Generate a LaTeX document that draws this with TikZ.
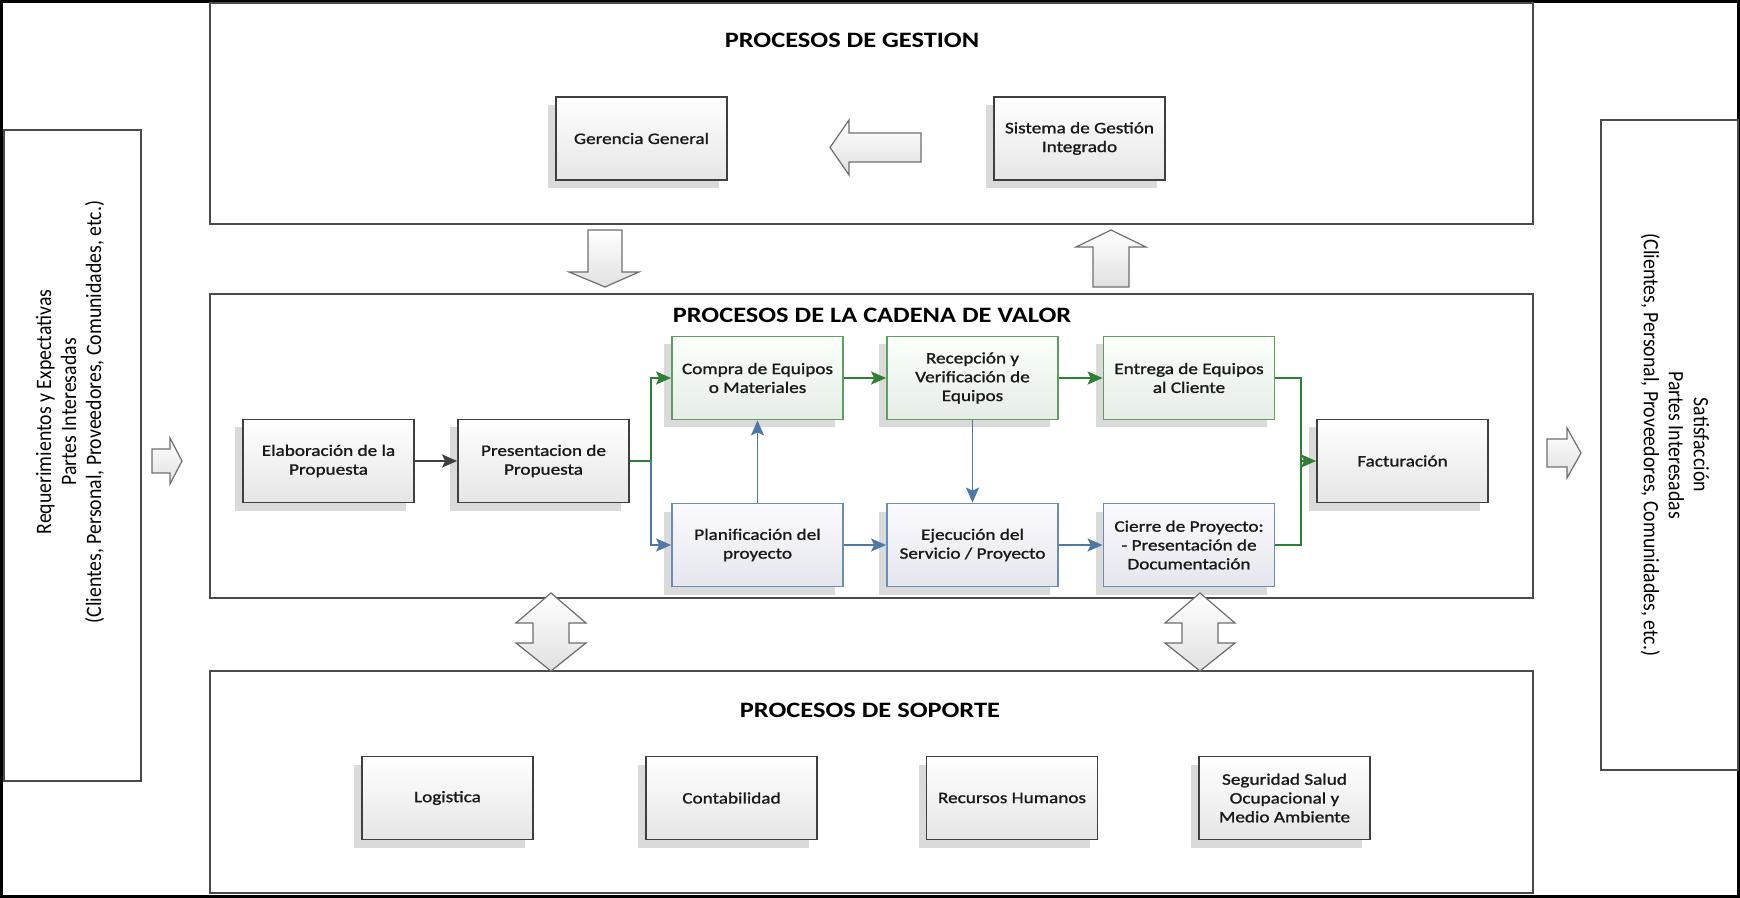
\documentclass[tikz,border=0pt]{standalone}
\usepackage{fontspec}
\setmainfont{Carlito}
\newfontfamily\boxfont{Carlito}[FakeStretch=1.2, FakeBold=1.2]
\newfontfamily\titlefont{Carlito}[FakeStretch=1.2]
\newfontfamily\sidefont{Carlito}[FakeStretch=0.9]
\usetikzlibrary{arrows.meta,shadows,shadings}

\definecolor{boxline}{HTML}{3F3F3F}
\definecolor{frameline}{HTML}{4A4A4A}
\definecolor{grnline}{HTML}{5E9E5E}
\definecolor{grnconn}{HTML}{2F7F34}
\definecolor{blueline}{HTML}{6A8DB3}
\definecolor{blueconn}{HTML}{4E79A7}
\definecolor{grayconn}{HTML}{404040}
\definecolor{shadowgray}{HTML}{DADADA}
\definecolor{blockline}{HTML}{6E6E6E}

\tikzset{
  frame/.style={draw=frameline, line width=1.2pt, fill=white},
  procbox/.style={draw=boxline, line width=0.9pt, minimum width=85.5pt,
    minimum height=41.5pt, inner sep=1pt, align=center,
    font=\boxfont\fontsize{8}{9.4}\selectfont, text=black!90,
    top color=white, bottom color=black!10,
    drop shadow={shadow xshift=-4pt, shadow yshift=-4pt, fill=shadowgray, opacity=1}},
  greenbox/.style={procbox, draw=grnline, top color=green!2!white, bottom color=green!30!black!10},
  bluebox/.style={procbox, draw=blueline, top color=blue!2!white, bottom color=blue!30!black!10},
  sidebox/.style={draw=frameline, line width=1pt, fill=white},
  title/.style={font=\titlefont\bfseries\fontsize{11}{13}\selectfont},
  sidetext/.style={align=center, font=\sidefont\fontsize{11}{12.5}\selectfont},
  tip/.style={-{Stealth[length=7.5pt,width=6.5pt,inset=1.5pt]}},
  grayconn/.style={draw=grayconn, fill=grayconn, line width=0.9pt},
  greenconn/.style={draw=grnconn, line width=0.9pt},
  blueconn/.style={draw=blueconn, line width=0.9pt},
  blockarrow/.style={draw=blockline, line width=0.6pt, top color=white, bottom color=black!12},
}

\begin{document}
\begin{tikzpicture}[x=0.5pt, y=-0.5pt]
\useasboundingbox (0,0) rectangle (1740,898);

% outer border
\draw[black, line width=1.5pt] (1.5,1.5) rectangle (1738.5,896.5);

% stakeholder columns
\node[sidebox, minimum width=68.5pt, minimum height=325.5pt] (reqbox) at (72.5,455.5) {};
\node[sidetext, rotate=90] (reqtext) at (70,412) {Requerimientos y Expectativas\\Partes Interesadas\\(Clientes, Personal, Proveedores, Comunidades, etc.)};
\node[sidebox, minimum width=68.5pt, minimum height=325pt] (satbox) at (1669.5,445) {};
\node[sidetext, rotate=-90] (sattext) at (1675,445) {Satisfacción\\Partes Interesadas\\(Clientes, Personal, Proveedores, Comunidades, etc.)};

% process group frames
\node[frame, minimum width=661.5pt, minimum height=110.5pt] (gestion) at (871.5,113.5) {};
\node[frame, minimum width=661.5pt, minimum height=152pt] (cadena) at (871.5,446) {};
\node[frame, minimum width=661.5pt, minimum height=111pt] (soporte) at (871.5,782) {};

% titles
\node[title] (tgestion) at (852,40) {PROCESOS DE GESTION};
\node[title] (tcadena) at (872,315) {PROCESOS DE LA CADENA DE VALOR};
\node[title] (tsoporte) at (870,710) {PROCESOS DE SOPORTE};

% management processes
\node[procbox] (gerencia) at (641.5,138.5) {Gerencia General};
\node[procbox] (sistema) at (1079.5,138.5) {Sistema de Gestión\\Integrado};

% value chain
\node[procbox] (elab) at (328.5,461) {Elaboración de la\\Propuesta};
\node[procbox] (pres) at (543.5,461) {Presentacion de\\Propuesta};
\node[greenbox] (compra) at (757.5,378) {Compra de Equipos\\o Materiales};
\node[greenbox] (recep) at (972.5,378) {Recepción y\\Verificación de\\Equipos};
\node[greenbox] (entrega) at (1189,378) {Entrega de Equipos\\al Cliente};
\node[bluebox] (plan) at (757.5,545) {Planificación del\\proyecto};
\node[bluebox] (ejec) at (972.5,545) {Ejecución del\\Servicio / Proyecto};
\node[bluebox] (cierre) at (1189,545) {Cierre de Proyecto:\\- Presentación de\\Documentación};
\node[procbox] (fact) at (1402.5,461) {Facturación};

% support processes
\node[procbox] (logis) at (447.5,798) {Logistica};
\node[procbox] (conta) at (731.5,798) {Contabilidad};
\node[procbox] (rrhh) at (1012,798) {Recursos Humanos};
\node[procbox] (sso) at (1284.5,798) {Seguridad Salud\\Ocupacional y\\Medio Ambiente};

% junction points
\coordinate (J) at (651,461);
\coordinate (K) at (1301,461);

% connectors
\draw[grayconn, tip] (elab) -- (pres);
\draw[greenconn] (pres.east) -- (J);
\draw[greenconn, tip] (J) |- (compra.west);
\draw[blueconn, tip] (J) |- (plan.west);
\draw[blueconn, tip] (plan.north) -- (compra.south);
\draw[greenconn, tip] (compra) -- (recep);
\draw[greenconn, tip] (recep) -- (entrega);
\draw[blueconn, tip] (recep.south) -- (ejec.north);
\draw[blueconn, tip] (plan) -- (ejec);
\draw[blueconn, tip] (ejec) -- (cierre);
\draw[greenconn, tip] (entrega.east) -| (K) -- (fact.west);
\draw[greenconn] (cierre.east) -| (K);

% block arrows
\draw[blockarrow] (830,147.5) -- (849,120) -- (849,133) -- (921,133) -- (921,162) -- (849,162) -- (849,175) -- cycle;
\draw[blockarrow] (588,230) -- (622,230) -- (622,272) -- (639,272) -- (605,287) -- (569,272) -- (588,272) -- cycle;
\draw[blockarrow] (1111,230) -- (1146,247) -- (1129,247) -- (1129,287) -- (1093,287) -- (1093,247) -- (1076,247) -- cycle;
\draw[blockarrow] (551,593) -- (586,623) -- (569,623) -- (569,643) -- (586,643) -- (551,671) -- (516,643) -- (533,643) -- (533,623) -- (516,623) -- cycle;
\draw[blockarrow] (1200,593) -- (1235,623) -- (1218,623) -- (1218,643) -- (1235,643) -- (1200,671) -- (1165,643) -- (1182,643) -- (1182,623) -- (1165,623) -- cycle;
\draw[blockarrow] (152,449) -- (170,449) -- (170,438) -- (182,461) -- (170,484) -- (170,473) -- (152,473) -- cycle;
\draw[blockarrow] (1547,439) -- (1567,439) -- (1567,428) -- (1581,453) -- (1567,478) -- (1567,467) -- (1547,467) -- cycle;
\end{tikzpicture}
\end{document}
